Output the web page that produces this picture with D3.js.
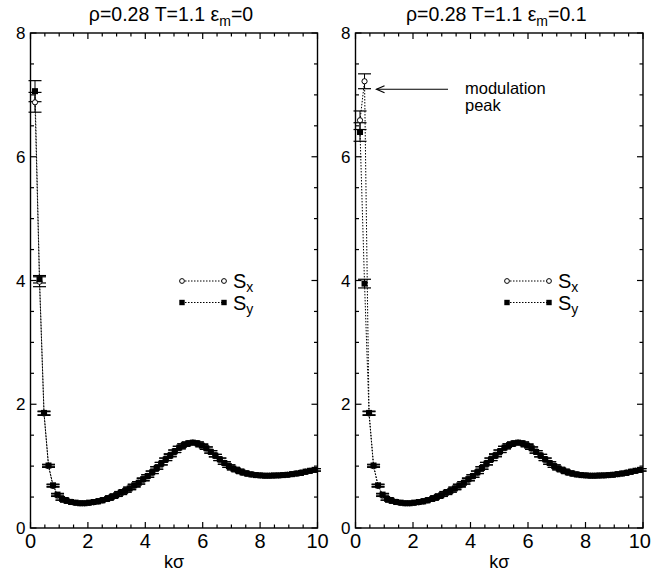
<!DOCTYPE html>
<html>
<head>
<meta charset="utf-8">
<script src="https://cdn.jsdelivr.net/npm/d3@7"></script>
<style>
  body { margin: 0; background: #fff; }
  svg text { font-family: "Liberation Sans", Arial, sans-serif; fill: #000; }
</style>
</head>
<body>
<div id="chart"></div>
<script>
// ---------------- data ----------------
// wave numbers k = 2*pi*n/L (n = 1..63)
var kValues = [0.157,0.314,0.471,0.628,0.785,0.942,1.100,1.257,1.414,1.571,
  1.728,1.885,2.042,2.199,2.356,2.513,2.670,2.827,2.985,3.142,
  3.299,3.456,3.613,3.770,3.927,4.084,4.241,4.398,4.555,4.712,
  4.869,5.027,5.184,5.341,5.498,5.655,5.812,5.969,6.126,6.283,
  6.440,6.597,6.754,6.912,7.069,7.226,7.383,7.540,7.697,7.854,
  8.011,8.168,8.325,8.482,8.639,8.796,8.954,9.111,9.268,9.425,
  9.582,9.739,9.896];

// panel 1 : eps_m = 0
var sx0 = [6.88,3.98,1.85,1.00,0.68,0.53,0.47,0.44,0.42,0.405,
  0.40,0.40,0.405,0.415,0.43,0.45,0.47,0.50,0.53,0.56,
  0.60,0.64,0.68,0.73,0.78,0.84,0.90,0.97,1.04,1.11,
  1.18,1.24,1.30,1.34,1.37,1.38,1.37,1.34,1.29,1.23,
  1.17,1.11,1.05,1.00,0.96,0.93,0.90,0.88,0.865,0.855,
  0.85,0.845,0.845,0.845,0.85,0.855,0.86,0.87,0.88,0.895,
  0.91,0.925,0.94];
var sy0 = [7.06,4.02,1.86,1.01,0.69,0.54,0.47,0.44,0.42,0.41,
  0.40,0.40,0.41,0.42,0.43,0.45,0.47,0.50,0.53,0.57,
  0.60,0.64,0.69,0.73,0.79,0.84,0.90,0.97,1.04,1.11,
  1.17,1.24,1.30,1.34,1.37,1.38,1.37,1.33,1.29,1.23,
  1.17,1.11,1.05,1.00,0.96,0.93,0.90,0.88,0.865,0.855,
  0.85,0.845,0.845,0.85,0.85,0.855,0.86,0.87,0.88,0.89,
  0.91,0.925,0.94];
var ex0 = [0.16,0.08,0.03,0.02,0.02,0.02];
var ey0 = [0.17,0.06,0.03,0.02,0.02,0.02];

// panel 2 : eps_m = 0.1
var sx1 = [6.59,7.22,1.85,1.00,0.68,0.53,0.47,0.44,0.42,0.405,
  0.40,0.40,0.405,0.415,0.43,0.45,0.47,0.50,0.53,0.56,
  0.60,0.64,0.68,0.73,0.78,0.84,0.90,0.97,1.04,1.11,
  1.18,1.24,1.30,1.34,1.37,1.38,1.37,1.34,1.29,1.23,
  1.17,1.11,1.05,1.00,0.96,0.93,0.90,0.88,0.865,0.855,
  0.85,0.845,0.845,0.845,0.85,0.855,0.86,0.87,0.88,0.895,
  0.91,0.925,0.94];
var sy1 = [6.40,3.95,1.86,1.01,0.69,0.54,0.47,0.44,0.42,0.41,
  0.40,0.40,0.41,0.42,0.43,0.45,0.47,0.50,0.53,0.57,
  0.60,0.64,0.69,0.73,0.79,0.84,0.90,0.97,1.04,1.11,
  1.17,1.24,1.30,1.34,1.37,1.38,1.37,1.33,1.29,1.23,
  1.17,1.11,1.05,1.00,0.96,0.93,0.90,0.88,0.865,0.855,
  0.85,0.845,0.845,0.85,0.85,0.855,0.86,0.87,0.88,0.89,
  0.91,0.925,0.94];
var ex1 = [0.15,0.12,0.03,0.02,0.02,0.02];
var ey1 = [0.15,0.07,0.03,0.02,0.02,0.02];

var xTicks = [0, 2, 4, 6, 8, 10];
var yTicks = [0, 2, 4, 6, 8];
var titles = ["0", "0.1"];

// ---------------- drawing ----------------
var width = 652, height = 579;
var svg = d3.select("#chart").append("svg")
    .attr("width", width).attr("height", height);

var yScale = d3.scaleLinear().domain([0, 8]).range([528, 33]);

var panels = [
  {x0: 30.5, x1: 317.5, sx: sx0, sy: sy0, ex: ex0, ey: ey0, eps: titles[0]},
  {x0: 355.5, x1: 643, sx: sx1, sy: sy1, ex: ex1, ey: ey1, eps: titles[1]}
];

function errAt(arr, i) { return i < arr.length ? arr[i] : 0.02; }

panels.forEach(function(p, pi) {
  var x = d3.scaleLinear().domain([0, 10]).range([p.x0, p.x1]);
  var g = svg.append("g");

  // title
  var t = g.append("text")
      .attr("x", (p.x0 + p.x1) / 2 - 3)
      .attr("y", 21)
      .attr("text-anchor", "middle")
      .style("font-size", "19.5px");
  t.append("tspan").text("\u03c1=0.28 T=1.1 \u03b5");
  t.append("tspan").attr("dy", 5).style("font-size", "14px").text("m");
  t.append("tspan").attr("dy", -5).text("=" + p.eps);

  // frame
  g.append("rect")
      .attr("x", x(0)).attr("y", yScale(8))
      .attr("width", x(10) - x(0)).attr("height", yScale(0) - yScale(8))
      .attr("fill", "none").attr("stroke", "#000").attr("stroke-width", 1.4);

  // ticks, inside on all four sides
  var xMinor = d3.range(0, 10.01, 0.5);
  var yMinor = d3.range(0, 8.01, 0.5);
  xMinor.forEach(function(v) {
    var len = (v % 2 === 0) ? 6 : 3.5;
    g.append("line").attr("x1", x(v)).attr("x2", x(v))
      .attr("y1", yScale(0)).attr("y2", yScale(0) - len)
      .attr("stroke", "#000").attr("stroke-width", 1.2);
    g.append("line").attr("x1", x(v)).attr("x2", x(v))
      .attr("y1", yScale(8)).attr("y2", yScale(8) + len)
      .attr("stroke", "#000").attr("stroke-width", 1.2);
  });
  yMinor.forEach(function(v) {
    var len = (v % 2 === 0) ? 6 : 3.5;
    g.append("line").attr("x1", x(0)).attr("x2", x(0) + len)
      .attr("y1", yScale(v)).attr("y2", yScale(v))
      .attr("stroke", "#000").attr("stroke-width", 1.2);
    g.append("line").attr("x1", x(10)).attr("x2", x(10) - len)
      .attr("y1", yScale(v)).attr("y2", yScale(v))
      .attr("stroke", "#000").attr("stroke-width", 1.2);
  });

  // tick labels
  g.selectAll(".xl").data(xTicks).enter().append("text")
      .attr("x", function(d) { return x(d); })
      .attr("y", 548)
      .attr("text-anchor", "middle")
      .style("font-size", "20px")
      .text(function(d) { return d; })
      .each(function() {
        // keep the last label inside the page
        var w = this.getComputedTextLength();
        var cx = +d3.select(this).attr("x");
        if (cx + w / 2 > width - 1) d3.select(this).attr("x", width - 1 - w / 2);
      });
  g.selectAll(".yl").data(yTicks).enter().append("text")
      .attr("x", x(0) - 5)
      .attr("y", function(d) { return yScale(d) + 6; })
      .attr("text-anchor", "end")
      .style("font-size", "17px")
      .text(function(d) { return d; });

  g.append("text")
      .attr("x", (p.x0 + p.x1) / 2)
      .attr("y", 568)
      .attr("text-anchor", "middle")
      .style("font-size", "18px")
      .text("k\u03c3");

  // dotted lines
  var line = d3.line()
      .x(function(d, i) { return x(kValues[i]); })
      .y(function(d) { return yScale(d); });
  [p.sx, p.sy].forEach(function(s) {
    g.append("path").datum(s)
      .attr("d", line)
      .attr("fill", "none").attr("stroke", "#000")
      .attr("stroke-width", 1).attr("stroke-dasharray", "1.5,1.5");
  });

  // error bars
  function errBars(s, e) {
    s.forEach(function(v, i) {
      var cx = x(kValues[i]), err = errAt(e, i);
      var yt = yScale(v + err), yb = yScale(v - err);
      g.append("line").attr("x1", cx).attr("x2", cx).attr("y1", yt).attr("y2", yb)
        .attr("stroke", "#000").attr("stroke-width", 1);
      [yt, yb].forEach(function(yy) {
        g.append("line").attr("x1", cx - 6.5).attr("x2", cx + 6.5)
          .attr("y1", yy).attr("y2", yy)
          .attr("stroke", "#000").attr("stroke-width", 1.2);
      });
    });
  }
  errBars(p.sx, p.ex);
  errBars(p.sy, p.ey);

  // markers: open circles first, filled squares on top
  g.selectAll(".ci").data(p.sx).enter().append("circle")
      .attr("cx", function(d, i) { return x(kValues[i]); })
      .attr("cy", function(d) { return yScale(d); })
      .attr("r", 2.6)
      .attr("fill", "#fff").attr("stroke", "#000").attr("stroke-width", 1);
  g.selectAll(".sq").data(p.sy).enter().append("rect")
      .attr("x", function(d, i) { return x(kValues[i]) - 3; })
      .attr("y", function(d) { return yScale(d) - 3; })
      .attr("width", 6).attr("height", 6)
      .attr("fill", "#000");

  // legend
  var lx = p.x0 + 151.5, ly = 281;
  g.append("line").attr("x1", lx).attr("x2", lx + 42).attr("y1", ly).attr("y2", ly)
    .attr("stroke", "#000").attr("stroke-dasharray", "1.5,1.5");
  [lx, lx + 42].forEach(function(cx) {
    g.append("circle").attr("cx", cx).attr("cy", ly).attr("r", 2.4)
      .attr("fill", "#fff").attr("stroke", "#000");
  });
  g.append("line").attr("x1", lx).attr("x2", lx + 42).attr("y1", ly + 21.5).attr("y2", ly + 21.5)
    .attr("stroke", "#000").attr("stroke-dasharray", "1.5,1.5");
  [lx, lx + 42].forEach(function(cx) {
    g.append("rect").attr("x", cx - 2.7).attr("y", ly + 21.5 - 2.7)
      .attr("width", 5.4).attr("height", 5.4).attr("fill", "#000");
  });
  var lt1 = g.append("text").attr("x", lx + 51).attr("y", ly + 7).style("font-size", "20px");
  lt1.append("tspan").text("S");
  lt1.append("tspan").attr("dy", 4).style("font-size", "14px").text("x");
  var lt2 = g.append("text").attr("x", lx + 51).attr("y", ly + 28.5).style("font-size", "20px");
  lt2.append("tspan").text("S");
  lt2.append("tspan").attr("dy", 4).style("font-size", "14px").text("y");

  // annotation on second panel
  if (pi === 1) {
    var ay = yScale(sx1[1]) + 8;
    var tipX = x(kValues[1]) + 12;
    g.append("line")
      .attr("x1", 448).attr("x2", tipX)
      .attr("y1", ay).attr("y2", ay)
      .attr("stroke", "#000").attr("stroke-width", 1);
    g.append("path")
      .attr("d", "M" + (tipX + 8) + "," + (ay - 3.5) + " L" + tipX + "," + ay + " L" + (tipX + 8) + "," + (ay + 3.5))
      .attr("fill", "none").attr("stroke", "#000").attr("stroke-width", 1.2);
    g.append("text").attr("x", 465).attr("y", 94).style("font-size", "16.5px").text("modulation");
    g.append("text").attr("x", 465).attr("y", 111).style("font-size", "16.5px").text("peak");
  }
});
</script>
</body>
</html>
